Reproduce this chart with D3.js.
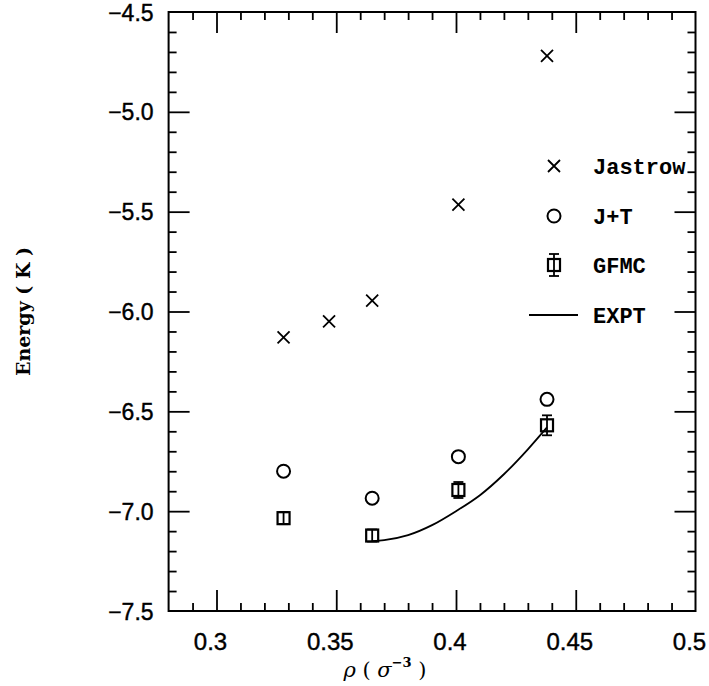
<!DOCTYPE html>
<html><head><meta charset="utf-8">
<script src="https://cdn.jsdelivr.net/npm/d3@7"></script>
<style>body{margin:0;background:#fff}svg{display:block}</style>
</head><body>
<script>
// data
const jastrowX = [0.328, 0.347, 0.365, 0.401, 0.438];
const jastrowE = [-6.13, -6.05, -5.945, -5.465, -4.72];
const jtX = [0.328, 0.365, 0.401, 0.438];
const jtE = [-6.80, -6.935, -6.727, -6.44];
const gfmcX = [0.328, 0.365, 0.401, 0.438];
const gfmcE = [-7.035, -7.122, -6.894, -6.57];
const gfmcErr = [0.03, 0.02, 0.04, 0.05];
const exptX = [0.365, 0.37, 0.38, 0.39, 0.40, 0.41, 0.42, 0.43, 0.438];
const exptE = [-7.15, -7.145, -7.12, -7.07, -7.0, -6.92, -6.815, -6.69, -6.58];
const xTicks = [0.3, 0.35, 0.4, 0.45, 0.5];
const xTickLabels = ["0.3", "0.35", "0.4", "0.45", "0.5"];
const yTicks = [-7.5, -7.0, -6.5, -6.0, -5.5, -5.0, -4.5];
const yTickLabels = ["\u22127.5", "\u22127.0", "\u22126.5", "\u22126.0", "\u22125.5", "\u22125.0", "\u22124.5"];
const legendLabels = ["Jastrow", "J+T", "GFMC", "EXPT"];

const W = 709, H = 686;
const L = 168.6, R = 695.5, T = 12, B = 611;
const svg = d3.select("body").append("svg").attr("width", W).attr("height", H);
const x = d3.scaleLinear().domain([0.28, 0.5]).range([L, R]);
const y = d3.scaleLinear().domain([-7.5, -4.5]).range([B, T]);

const ink = "#000";
const g = svg.append("g");
g.append("rect").attr("x", L).attr("y", T).attr("width", R - L).attr("height", B - T)
  .attr("fill", "none").attr("stroke", ink).attr("stroke-width", 2);

const xMinor = d3.range(0.29, 0.4999, 0.01).map(v => +v.toFixed(3));
const yMinor = d3.range(-7.4, -4.55, 0.1).map(v => +v.toFixed(2));
const isMajX = v => xTicks.some(t => Math.abs(t - v) < 1e-6);
const isMajY = v => yTicks.some(t => Math.abs(t - v) < 1e-6);

const gxb = g.append("g").attr("transform", `translate(0,${B})`).call(d3.axisBottom(x).tickValues(xMinor).tickFormat("").tickSizeOuter(0).tickSizeInner(-8));
gxb.selectAll(".tick line").attr("y2", d => isMajX(d) ? -21 : -8);
const gxt = g.append("g").attr("transform", `translate(0,${T})`).call(d3.axisTop(x).tickValues(xMinor).tickFormat("").tickSizeOuter(0).tickSizeInner(-8));
gxt.selectAll(".tick line").attr("y2", d => isMajX(d) ? 21 : 8);
const gyl = g.append("g").attr("transform", `translate(${L},0)`).call(d3.axisLeft(y).tickValues(yMinor).tickFormat("").tickSizeOuter(0).tickSizeInner(-8));
gyl.selectAll(".tick line").attr("x2", d => isMajY(d) ? 21 : 8);
const gyr = g.append("g").attr("transform", `translate(${R},0)`).call(d3.axisRight(y).tickValues(yMinor).tickFormat("").tickSizeOuter(0).tickSizeInner(-8));
gyr.selectAll(".tick line").attr("x2", d => isMajY(d) ? -21 : -8);
[gxb, gxt, gyl, gyr].forEach(a => { a.select(".domain").remove(); a.selectAll(".tick line").attr("stroke", ink).attr("stroke-width", 1.8); });

// tick labels
const lblFont = "'Liberation Sans', Arial, sans-serif";
g.selectAll(".xl").data(xTicks).enter().append("text")
  .attr("x", d => x(d) - 6).attr("y", B + 39).attr("text-anchor", "middle")
  .attr("font-family", lblFont).attr("font-size", 24).attr("fill", ink)
  .attr("stroke", ink).attr("stroke-width", 0.4)
  .text((d, i) => xTickLabels[i]);
g.selectAll(".yl").data(yTicks).enter().append("text")
  .attr("x", L - 15).attr("y", d => y(d) + 8.5).attr("text-anchor", "end")
  .attr("font-family", lblFont).attr("font-size", 23).attr("fill", ink)
  .attr("stroke", ink).attr("stroke-width", 0.4)
  .text((d, i) => yTickLabels[i]);

// axis titles
const serif = "'DejaVu Serif', 'Liberation Serif', serif";
const xt = g.append("text").attr("x", 385).attr("y", 677).attr("text-anchor", "middle")
  .attr("font-family", serif).attr("font-size", 21).attr("fill", ink);
xt.append("tspan").attr("font-style", "italic").text("\u03c1");
xt.append("tspan").text("  (  ");
xt.append("tspan").attr("font-style", "italic").text("\u03c3");
xt.append("tspan").attr("dy", -10).attr("font-size", 13).attr("font-weight", "bold").text("\u22123");
xt.append("tspan").attr("dy", 10).text("  )");
g.append("text").attr("transform", `translate(30,${(T + B) / 2}) rotate(-90)`)
  .attr("text-anchor", "middle").attr("font-family", serif).attr("font-weight", "bold")
  .attr("font-size", 19).attr("fill", ink).text("Energy ( K )");

// marks
function cross(sel, s) {
  sel.append("path").attr("d", `M${-s},${-s}L${s},${s}M${-s},${s}L${s},${-s}`)
    .attr("stroke", ink).attr("stroke-width", 1.8).attr("fill", "none");
}
function gfmcMark(sel, errPx) {
  sel.append("line").attr("x1", 0).attr("x2", 0).attr("y1", -errPx).attr("y2", errPx).attr("stroke", ink).attr("stroke-width", 1.8);
  sel.append("line").attr("x1", -5).attr("x2", 5).attr("y1", -errPx).attr("y2", -errPx).attr("stroke", ink).attr("stroke-width", 1.8);
  sel.append("line").attr("x1", -5).attr("x2", 5).attr("y1", errPx).attr("y2", errPx).attr("stroke", ink).attr("stroke-width", 1.8);
  sel.append("rect").attr("x", -6).attr("y", -6).attr("width", 12).attr("height", 12)
    .attr("fill", "none").attr("stroke", ink).attr("stroke-width", 2.2);
}

const line = d3.line().x(d => x(d[0])).y(d => y(d[1])).curve(d3.curveMonotoneX);
g.append("path").datum(exptX.map((v, i) => [v, exptE[i]])).attr("d", line)
  .attr("fill", "none").attr("stroke", ink).attr("stroke-width", 1.8);

jastrowX.forEach((v, i) => {
  cross(g.append("g").attr("transform", `translate(${x(v)},${y(jastrowE[i])})`), 6);
});
jtX.forEach((v, i) => {
  g.append("circle").attr("cx", x(v)).attr("cy", y(jtE[i])).attr("r", 6.5)
    .attr("fill", "none").attr("stroke", ink).attr("stroke-width", 2);
});
gfmcX.forEach((v, i) => {
  const m = g.append("g").attr("transform", `translate(${x(v)},${y(gfmcE[i])})`);
  const e = Math.max(6, y(gfmcE[i] - gfmcErr[i]) - y(gfmcE[i]));
  gfmcMark(m, e);
});

// legend
const legY = [166, 216, 265, 315];
const legFont = "'Liberation Mono', 'Courier New', monospace";
legendLabels.forEach((t, i) => {
  g.append("text").attr("x", 593).attr("y", legY[i] + 8).attr("font-family", legFont)
    .attr("font-weight", "bold").attr("font-size", 22).attr("fill", ink).text(t);
});
cross(g.append("g").attr("transform", `translate(554,${legY[0]})`), 6);
g.append("circle").attr("cx", 554).attr("cy", legY[1]).attr("r", 6.5).attr("fill", "none").attr("stroke", ink).attr("stroke-width", 2);
gfmcMark(g.append("g").attr("transform", `translate(554,${legY[2]})`), 11);
g.append("line").attr("x1", 529).attr("x2", 578).attr("y1", legY[3]).attr("y2", legY[3]).attr("stroke", ink).attr("stroke-width", 1.8);
</script>
</body></html>
